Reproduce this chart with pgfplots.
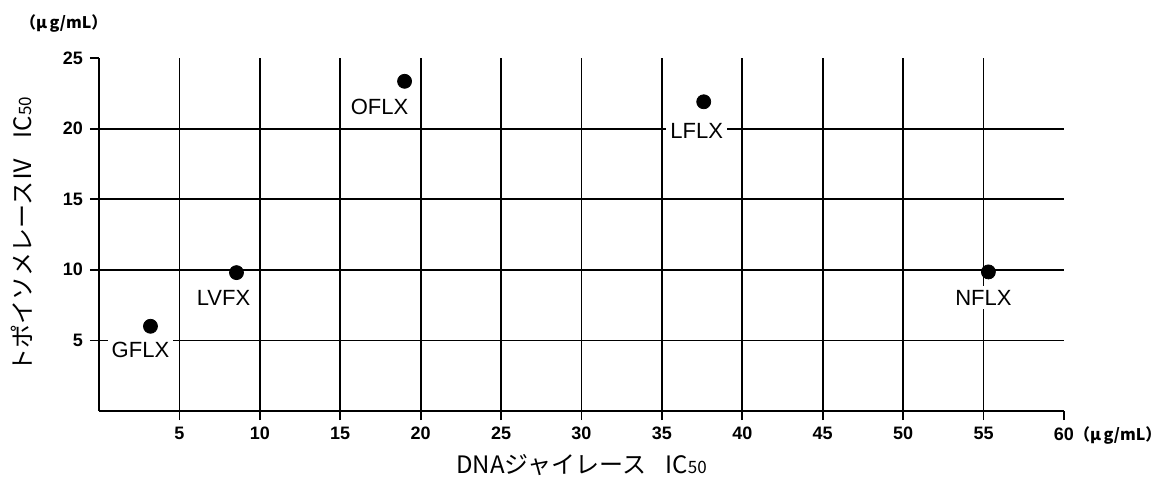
\documentclass[border=0pt]{standalone}
\usepackage{pgfplots}
\pgfplotsset{compat=1.18}
\usepackage{pgfplotstable}
\usepackage{fontspec}
\setmainfont{Liberation Sans}
\newfontfamily\jp{Noto Sans CJK JP}

\pgfplotstableread{
x y label dx dy
3.2 6.0 GFLX -5 -12
8.55 9.8 LVFX -6.5 -12.5
19.0 23.35 OFLX -12.5 -13
37.6 21.9 LFLX -3.5 -14.5
55.3 9.85 NFLX -2.5 -13
}\points

\begin{document}
\begin{tikzpicture}
\begin{axis}[
  at={(0,0)}, anchor=south west,
  scale only axis,
  width=482.5bp, height=176.5bp,
  xmin=0, xmax=60, ymin=0, ymax=25,
  axis lines=left,
  axis line style={-, line width=1bp, black},
  xtick={5,10,...,55}, ytick={5,10,15,20},
  extra x ticks={60}, extra y ticks={25},
  extra x tick labels={60\rlap{\jp\bfseries\fontsize{8bp}{10bp}\selectfont（μ\,g/mL）}},
  extra tick style={grid=none},
  grid=major,
  major grid style={line width=0.9bp, black},
  tick align=outside,
  major tick length=4.5bp,
  tick style={line width=0.9bp, black},
  ticklabel style={font=\fontsize{9bp}{11bp}\selectfont\bfseries},
  /pgf/number format/assume math mode=true,
  xlabel={DNAジャイレース\hspace{0.8em}IC{\fontsize{8.5bp}{10bp}\selectfont 50}},
  ylabel={トポイソメレースⅣ\hspace{0.8em}IC{\fontsize{8.5bp}{10bp}\selectfont 50}},
  xlabel style={font=\jp\fontsize{12bp}{14bp}\selectfont, at={(axis description cs:0.5,-0.153)}, anchor=center},
  ylabel style={font=\jp\fontsize{12bp}{14bp}\selectfont, at={(axis description cs:-0.0798,0.5)}, anchor=center},
  clip=false,
]
\addplot[only marks, mark=*, mark size=3.5bp, black,
  point meta=explicit symbolic,
  visualization depends on={\thisrow{dx} \as \dx},
  visualization depends on={\thisrow{dy} \as \dy},
  nodes near coords,
  every node near coord/.style={anchor=center, xshift=\dx bp, yshift=\dy bp, fill=white, inner sep=2bp, font=\fontsize{11bp}{13bp}\selectfont, text=black},
] table[x=x, y=y, meta=label] {\points};
\end{axis}
\node[anchor=west, font=\jp\bfseries\fontsize{8bp}{10bp}\selectfont] at (-43bp,193.5bp) {（μ\,g/mL）};
\pgfresetboundingbox
\path[use as bounding box] (-49.5bp,-39.5bp) rectangle (533bp,205.5bp);
\end{tikzpicture}
\end{document}
